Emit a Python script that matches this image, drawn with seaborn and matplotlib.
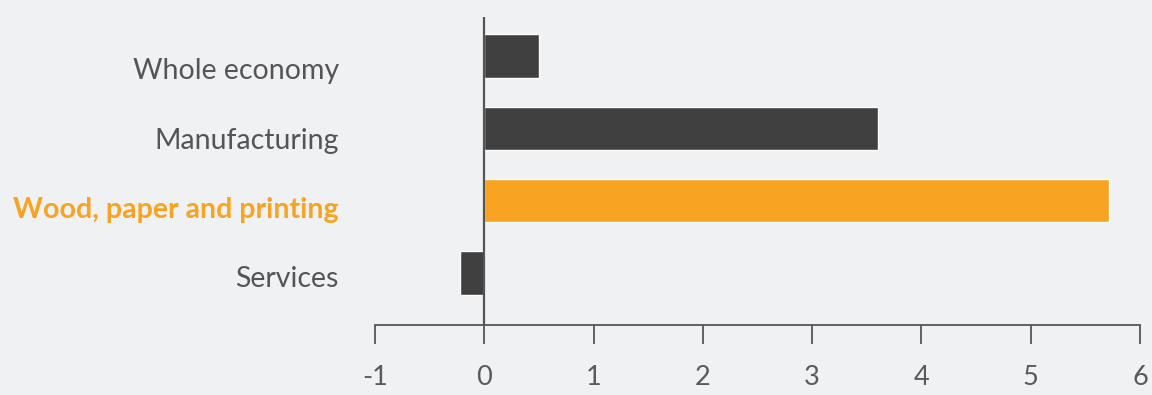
import matplotlib
matplotlib.use("Agg")
import matplotlib.pyplot as plt
import seaborn as sns
import pandas as pd

# data
categories = ["Whole economy", "Manufacturing", "Wood, paper and printing", "Services"]
values = [0.50, 3.60, 5.72, -0.22]
highlight = "Wood, paper and printing"
x_ticks = [-1, 0, 1, 2, 3, 4, 5, 6]

bg = "#f0f1f3"
dark = "#404040"
orange = "#f8a321"
text_grey = "#555555"

sns.set_theme(style="white")
plt.rcParams["font.family"] = ["Lato", "DejaVu Sans"]

df = pd.DataFrame({"category": categories, "value": values})
palette = {c: (orange if c == highlight else dark) for c in categories}

fig = plt.figure(figsize=(11.52, 3.95), dpi=100, facecolor=bg)
ax = fig.add_axes([0.3255, 0.177, 0.664, 0.78], facecolor=bg)

sns.barplot(data=df, x="value", y="category", hue="category", palette=palette,
            order=categories, width=0.6, legend=False, saturation=1, ax=ax)

# zero reference line
ax.axvline(0, color="#555555", lw=1.6, zorder=3)

ax.set_xlim(-1, 6)
ax.set_ylim(3.72, -0.54)
ax.set_xticks(x_ticks)
ax.set_xticklabels([str(t) for t in x_ticks], fontsize=19.5, color="#5a5a5a")
ax.tick_params(axis="x", direction="out", length=14, width=1.3, color="#555555", pad=15,
               bottom=True)
ax.set_xlabel("")
ax.set_ylabel("")

# category labels drawn as text so the highlighted one can be styled
ax.set_yticks(range(len(categories)))
ax.set_yticklabels([])
ax.tick_params(axis="y", left=False)
for i, c in enumerate(categories):
    is_hl = c == highlight
    ax.text(-1.33, i + 0.32 - 0.04 * i, c, ha="right", va="baseline", fontsize=20.5,
            color=orange if is_hl else text_grey,
            fontweight="bold" if is_hl else "normal",
            transform=ax.transData, clip_on=False)

for s in ["top", "right", "left"]:
    ax.spines[s].set_visible(False)
ax.spines["bottom"].set_color("#555555")
ax.spines["bottom"].set_linewidth(1.3)

fig.savefig("out.png", dpi=100, facecolor=bg)
